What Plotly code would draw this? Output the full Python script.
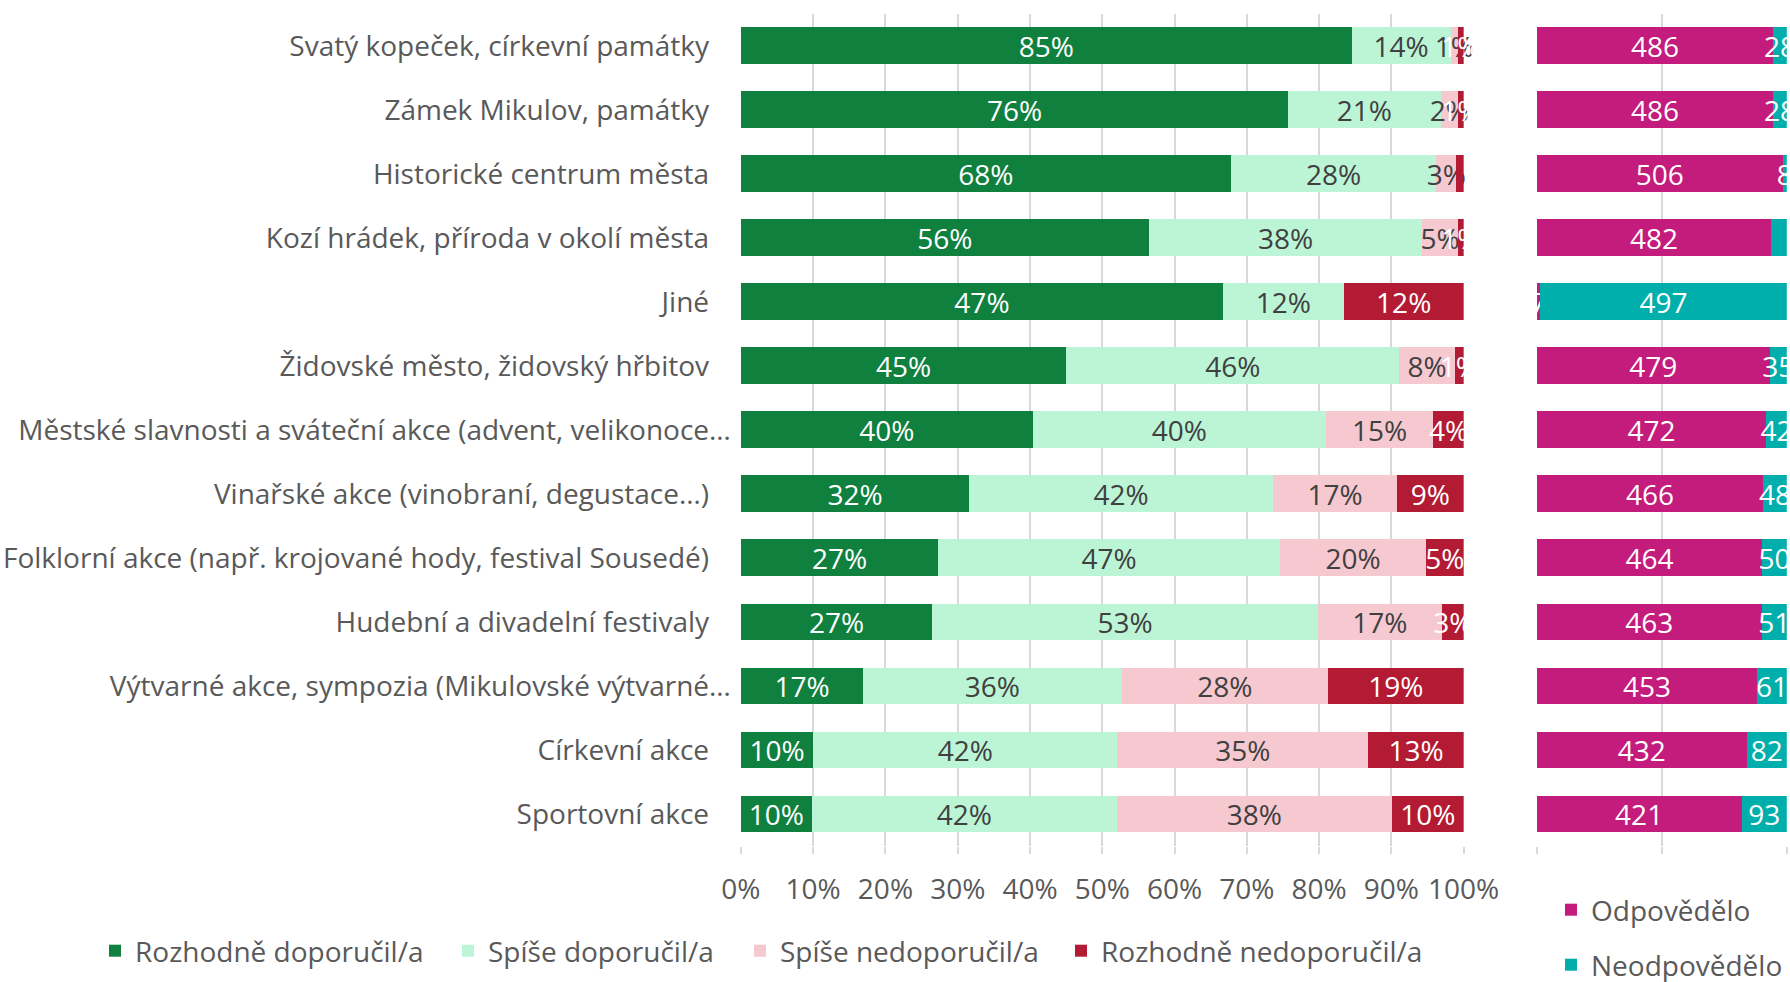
import plotly.graph_objects as go

# ---------------- data ----------------
categories = [
    "Svatý kopeček, církevní památky",
    "Zámek Mikulov, památky",
    "Historické centrum města",
    "Kozí hrádek, příroda v okolí města",
    "Jiné",
    "Židovské město, židovský hřbitov",
    "Městské slavnosti a sváteční akce (advent, velikonoce…",
    "Vinařské akce (vinobraní, degustace…)",
    "Folklorní akce (např. krojované hody, festival Sousedé)",
    "Hudební a divadelní festivaly",
    "Výtvarné akce, sympozia (Mikulovské výtvarné…",
    "Církevní akce",
    "Sportovní akce",
]
# labels that were cut short (with "…") in the original chart
truncated = [False, False, False, False, False, False, True, False, False, False, True, False, False]

rozhodne_doporucil = [84.5, 75.7, 67.8, 56.4, 66.7, 45.0, 40.4, 31.6, 27.3, 26.5, 16.9, 10.0, 9.8]
spise_doporucil = [13.7, 21.1, 28.4, 37.9, 16.7, 46.1, 40.5, 42.0, 47.3, 53.3, 35.8, 42.1, 42.2]
spise_nedoporucil = [1.0, 2.4, 2.8, 4.9, 0.0, 7.7, 14.9, 17.2, 20.2, 17.2, 28.5, 34.7, 38.1]
rozhodne_nedoporucil = [0.8, 0.8, 1.0, 0.8, 16.6, 1.2, 4.2, 9.2, 5.2, 3.0, 18.8, 13.2, 9.9]

lbl_rozhodne_doporucil = ["85%", "76%", "68%", "56%", "47%", "45%", "40%", "32%", "27%", "27%", "17%", "10%", "10%"]
lbl_spise_doporucil = ["14%", "21%", "28%", "38%", "12%", "46%", "40%", "42%", "47%", "53%", "36%", "42%", "42%"]
lbl_spise_nedoporucil = ["1%", "2%", "3%", "5%", "", "8%", "15%", "17%", "20%", "17%", "28%", "35%", "38%"]
lbl_rozhodne_nedoporucil = ["1%", "1%", "1%", "1%", "12%", "1%", "4%", "9%", "5%", "3%", "19%", "13%", "10%"]

odpovedelo = [486, 486, 506, 482, 7, 479, 472, 466, 464, 463, 453, 432, 421]
neodpovedelo = [28, 28, 8, 32, 497, 35, 42, 48, 50, 51, 61, 82, 93]

x_tick_vals = [0, 10, 20, 30, 40, 50, 60, 70, 80, 90, 100]
x_tick_text = ["0%", "10%", "20%", "30%", "40%", "50%", "60%", "70%", "80%", "90%", "100%"]

# ---------------- style ----------------
FONT = "Open Sans, Noto Sans, sans-serif"
FS = 28
GRAY = "#595959"
DARK = "#404040"
GRID = "#d9d9d9"
W = 1790
H = 1020          # a bit taller than the 982px window; the overflow is hidden


def py(px):
    """pixel offset from the top of the page -> paper y"""
    return 1 - px / H


fig = go.Figure()

# (name, values, labels, colour, text colour, legend id, legend marker-left px)
left_series = [
    ("Rozhodně doporučil/a", rozhodne_doporucil, lbl_rozhodne_doporucil, "#10803F", "white", "legend", 111),
    ("Spíše doporučil/a", spise_doporucil, lbl_spise_doporucil, "#BCF5D6", DARK, "legend3", 464),
    ("Spíše nedoporučil/a", spise_nedoporucil, lbl_spise_nedoporucil, "#F6C9D0", DARK, "legend4", 756),
    ("Rozhodně nedoporučil/a", rozhodne_nedoporucil, lbl_rozhodne_nedoporucil, "#B31B34", "white", "legend5", 1077),
]
for name, vals, labels, color, tcolor, leg, _ in left_series:
    fig.add_trace(go.Bar(
        y=categories, x=vals, orientation="h", name=name,
        marker=dict(color=color, line=dict(width=0)),
        text=labels, textposition="inside", insidetextanchor="middle",
        textangle=0, constraintext="none", cliponaxis=False,
        textfont=dict(color=tcolor, size=FS, family=FONT),
        xaxis="x", yaxis="y", legend=leg, hoverinfo="skip",
    ))

right_series = [
    ("Odpovědělo", odpovedelo, "#C41C7C", "legend2", 910),
    ("Neodpovědělo", neodpovedelo, "#00AFAC", "legend6", 965),
]
for name, vals, color, leg, _ in right_series:
    fig.add_trace(go.Bar(
        y=categories, x=vals, orientation="h", name=name,
        marker=dict(color=color, line=dict(width=0)),
        text=[str(v) for v in vals], textposition="inside", insidetextanchor="middle",
        textangle=0, constraintext="none", cliponaxis=False,
        textfont=dict(color="white", size=FS, family=FONT),
        xaxis="x2", yaxis="y2", legend=leg, hoverinfo="skip",
    ))

ydom = [py(846), py(13.7)]

legend_common = dict(
    font=dict(size=FS, color=GRAY, family=FONT),
    bgcolor="rgba(0,0,0,0)", xanchor="left", yanchor="middle",
)
legends = {}
for _, _, _, _, _, leg, px in left_series:
    legends[leg] = dict(orientation="h", x=(px - 16) / W, y=py(951), **legend_common)
for _, _, _, leg, ypx in right_series:
    legends[leg] = dict(orientation="v", x=(1567 - 16) / W, y=py(ypx), **legend_common)

# full labels end a little further left than the "…"-shortened ones
NB = "\u00a0\u00a0\u00a0"
y_tick_text = [c if t else c + NB for c, t in zip(categories, truncated)]

fig.update_layout(
    width=W, height=H,
    margin=dict(l=0, r=0, t=0, b=0),
    paper_bgcolor="white", plot_bgcolor="white",
    font=dict(family=FONT, size=FS, color=GRAY),
    barmode="stack", barnorm="percent", bargap=0.425,
    showlegend=True,
    xaxis=dict(
        domain=[0.4139, 0.8177], range=[0, 100], anchor="y",
        tickvals=x_tick_vals, ticktext=x_tick_text,
        showgrid=True, gridcolor=GRID, gridwidth=1.5,
        zeroline=False, showline=False,
        ticks="outside", ticklen=7, tickcolor=GRID, tickwidth=1.5,
        tickfont=dict(size=FS, color=GRAY, family=FONT),
        ticklabelstandoff=11, automargin=False, fixedrange=True,
    ),
    yaxis=dict(
        domain=ydom, anchor="x", autorange="reversed",
        tickmode="array", tickvals=categories, ticktext=y_tick_text,
        showgrid=False, zeroline=False, showline=False, ticks="",
        tickfont=dict(size=FS, color=GRAY, family=FONT),
        ticklabelstandoff=9, automargin=False,
    ),
    xaxis2=dict(
        domain=[0.8585, 0.9982], range=[0, 100], anchor="y2",
        tickvals=[0, 50, 100], showticklabels=False,
        showgrid=True, gridcolor=GRID, gridwidth=1.5,
        zeroline=False, showline=False,
        ticks="outside", ticklen=7, tickcolor=GRID, tickwidth=1.5,
        automargin=False,
    ),
    yaxis2=dict(
        domain=ydom, anchor="x2", autorange="reversed",
        showgrid=False, zeroline=False, showline=False,
        showticklabels=False, ticks="", automargin=False,
    ),
    **legends,
)

fig.write_html(
    "out.html",
    config={"displayModeBar": False},
    post_script="document.body.style.margin='0';document.body.style.overflow='hidden';",
)
